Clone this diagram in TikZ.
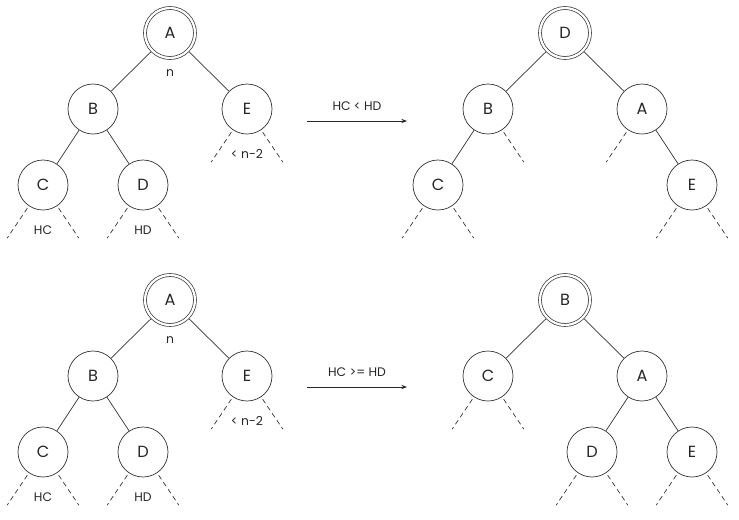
\documentclass[tikz,border=0pt]{standalone}
\usepackage{fontspec}
\setmainfont{Poppins}
\usetikzlibrary{arrows.meta, positioning, calc}
\tikzset{
        treenode/.style={circle, draw=black!80, line width=0.5pt, minimum size=1.25cm, inner sep=0pt, text=black!85, font=\fontsize{11.5}{13}\selectfont},
        rootnode/.style={treenode, double, double distance=1.6pt, outer sep=1.3pt},
        note/.style={text=black!85, font=\fontsize{8.8}{10}\selectfont, inner sep=1pt},
        edge/.style={draw=black!80, line width=0.5pt},
        stub/.style={draw=black!80, line width=0.5pt, dash pattern=on 3.5pt off 2.5pt},
        arrow/.style={-{Stealth[length=4pt, width=3pt]}, draw=black!85, line width=0.6pt},
    }

\begin{document}
\begin{tikzpicture}[on grid, font=\small]
        \useasboundingbox (0,0) rectangle (18.475,-12.975);

        % BEFORE (top)
        \node[rootnode] (A1) at (4.25,-0.825) {A};
        \node[treenode, below left=1.9cm and 1.925cm of A1] (B1) {B};
        \node[treenode, below right=1.9cm and 1.925cm of A1] (E1) {E};
        \node[treenode, below left=1.9cm and 1.25cm of B1] (C1) {C};
        \node[treenode, below right=1.9cm and 1.25cm of B1] (D1) {D};
        \node[note, below=1cm of A1] (n1) {n};
        \node[note, below=1.125cm of E1] (r1) {< n-2};
        \node[note, below=1.125cm of C1] (hc1) {HC};
        \node[note, below=1.125cm of D1] (hd1) {HD};
        \draw[edge] (A1) -- (B1);
        \draw[edge] (A1) -- (E1);
        \draw[edge] (B1) -- (C1);
        \draw[edge] (B1) -- (D1);

        % AFTER (top)
        \node[rootnode] (D2) at (14.125,-0.825) {D};
        \node[treenode, below left=1.9cm and 1.925cm of D2] (B2) {B};
        \node[treenode, below right=1.9cm and 1.925cm of D2] (A2) {A};
        \node[treenode, below left=1.9cm and 1.25cm of B2] (C2) {C};
        \node[treenode, below right=1.9cm and 1.25cm of A2] (E2) {E};
        \draw[edge] (D2) -- (B2);
        \draw[edge] (D2) -- (A2);
        \draw[edge] (B2) -- (C2);
        \draw[edge] (A2) -- (E2);

        % BEFORE (bottom)
        \node[rootnode] (A3) at (4.25,-7.5) {A};
        \node[treenode, below left=1.9cm and 1.925cm of A3] (B3) {B};
        \node[treenode, below right=1.9cm and 1.925cm of A3] (E3) {E};
        \node[treenode, below left=1.9cm and 1.25cm of B3] (C3) {C};
        \node[treenode, below right=1.9cm and 1.25cm of B3] (D3) {D};
        \node[note, below=1cm of A3] (n3) {n};
        \node[note, below=1.125cm of E3] (r3) {< n-2};
        \node[note, below=1.125cm of C3] (hc3) {HC};
        \node[note, below=1.125cm of D3] (hd3) {HD};
        \draw[edge] (A3) -- (B3);
        \draw[edge] (A3) -- (E3);
        \draw[edge] (B3) -- (C3);
        \draw[edge] (B3) -- (D3);

        % AFTER (bottom)
        \node[rootnode] (B4) at (14.125,-7.5) {B};
        \node[treenode, below left=1.9cm and 1.925cm of B4] (C4) {C};
        \node[treenode, below right=1.9cm and 1.925cm of B4] (A4) {A};
        \node[treenode, below left=1.9cm and 1.25cm of A4] (D4) {D};
        \node[treenode, below right=1.9cm and 1.25cm of A4] (E4) {E};
        \draw[edge] (B4) -- (C4);
        \draw[edge] (B4) -- (A4);
        \draw[edge] (A4) -- (D4);
        \draw[edge] (A4) -- (E4);

        % Subtree stubs
        \foreach \n in {C1,D1,E1,C2,E2,C3,D3,E3,C4,D4,E4} {
            \draw[stub] ($(\n)+(-124:0.7)$) -- ($(\n)+(-124:1.6)$);
            \draw[stub] ($(\n)+(-56:0.7)$) -- ($(\n)+(-56:1.6)$);
        }
        \draw[stub] ($(B2)+(-56:0.7)$) -- ($(B2)+(-56:1.6)$);
        \draw[stub] ($(A2)+(-124:0.7)$) -- ($(A2)+(-124:1.6)$);

        % Arrows
        \coordinate (s1) at (7.675,-3.025);
        \coordinate (t1) at (10.175,-3.025);
        \coordinate (s2) at (7.675,-9.675);
        \coordinate (t2) at (10.175,-9.675);
        \draw[arrow] (s1) -- (t1) node[note, midway, above=0.22cm] {HC < HD};
        \draw[arrow] (s2) -- (t2) node[note, midway, above=0.22cm] {HC >= HD};
    \end{tikzpicture}
\end{document}
